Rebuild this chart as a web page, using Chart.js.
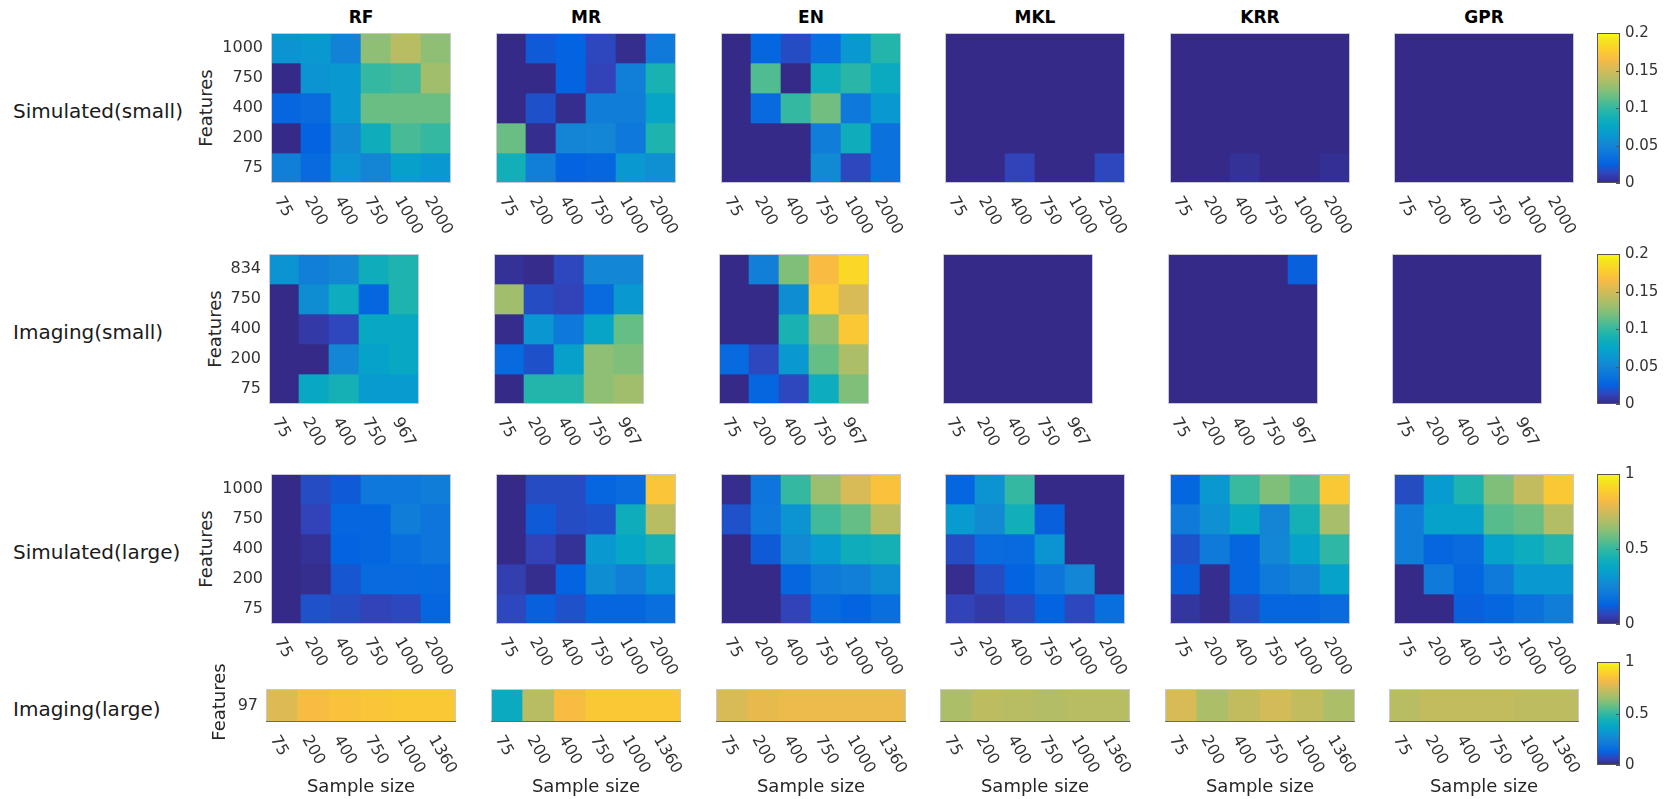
<!DOCTYPE html>
<html>
<head>
<meta charset="utf-8">
<title>Sensitivity heatmaps</title>
<script src="https://cdn.jsdelivr.net/npm/chart.js@4.4.1/dist/chart.umd.min.js"></script>
<style>
body { margin: 0; background: #fff; }
#fig { position: relative; width: 1669px; height: 799px; overflow: hidden; font-family: "DejaVu Sans", sans-serif; color: #262626; }
#fig canvas { position: absolute; }
.txt { position: absolute; white-space: nowrap; }
.title { font-weight: bold; font-size: 17px; color: #000; transform: translate(-50%, -50%); }
.rowname { font-size: 20px; color: #1a1a1a; transform: translateY(-50%); }
.ylab { font-size: 18px; transform: translate(-50%, -50%) rotate(-90deg); }
.xlab { font-size: 18px; transform: translate(-50%, -50%); }
</style>
</head>
<body>
<div id="fig"></div>
<script>
// Labels
const methods = ['RF', 'MR', 'EN', 'MKL', 'KRR', 'GPR'];
const rowNames = ['Simulated(small)', 'Imaging(small)', 'Simulated(large)', 'Imaging(large)'];

const simSamples = ['75', '200', '400', '750', '1000', '2000'];
const simFeatures = ['1000', '750', '400', '200', '75'];      // top row first
const imgSmallSamples = ['75', '200', '400', '750', '967'];
const imgSmallFeatures = ['834', '750', '400', '200', '75'];
const imgLargeSamples = ['75', '200', '400', '750', '1000', '1360'];
const imgLargeFeatures = ['97'];

const smallTicks = [0, 0.05, 0.1, 0.15, 0.2];
const largeTicks = [0, 0.5, 1];

// Simulated(small), colour range 0 - 0.2
const simSmallRF = [
    [0.060, 0.064, 0.048, 0.126, 0.140, 0.126],
    [0.000, 0.060, 0.064, 0.100, 0.104, 0.132],
    [0.028, 0.032, 0.064, 0.116, 0.116, 0.116],
    [0.000, 0.026, 0.054, 0.084, 0.106, 0.100],
    [0.046, 0.030, 0.060, 0.050, 0.070, 0.064]
];
const simSmallMR = [
    [0.000, 0.022, 0.026, 0.014, 0.002, 0.042],
    [0.000, 0.000, 0.026, 0.012, 0.046, 0.090],
    [0.000, 0.018, 0.002, 0.044, 0.044, 0.074],
    [0.116, 0.002, 0.050, 0.052, 0.040, 0.092],
    [0.086, 0.046, 0.026, 0.028, 0.064, 0.058]
];
const simSmallEN = [
    [0.000, 0.028, 0.016, 0.034, 0.064, 0.094],
    [0.000, 0.108, 0.000, 0.084, 0.096, 0.080],
    [0.000, 0.030, 0.100, 0.118, 0.040, 0.064],
    [0.000, 0.000, 0.000, 0.044, 0.084, 0.036],
    [0.000, 0.000, 0.000, 0.054, 0.014, 0.036]
];
const simSmallMKL = [
    [0, 0, 0, 0, 0, 0],
    [0, 0, 0, 0, 0, 0],
    [0, 0, 0, 0, 0, 0],
    [0, 0, 0, 0, 0, 0],
    [0, 0, 0.012, 0, 0, 0.014]
];
const simSmallKRR = [
    [0, 0, 0, 0, 0, 0],
    [0, 0, 0, 0, 0, 0],
    [0, 0, 0, 0, 0, 0],
    [0, 0, 0, 0, 0, 0],
    [0, 0, 0.004, 0, 0, 0.003]
];
const simSmallGPR = [
    [0, 0, 0, 0, 0, 0],
    [0, 0, 0, 0, 0, 0],
    [0, 0, 0, 0, 0, 0],
    [0, 0, 0, 0, 0, 0],
    [0, 0, 0, 0, 0, 0]
];

// Imaging(small), colour range 0 - 0.2
const imgSmallRF = [
    [0.060, 0.046, 0.052, 0.084, 0.092],
    [0.000, 0.056, 0.082, 0.028, 0.092],
    [0.000, 0.008, 0.014, 0.078, 0.078],
    [0.000, 0.000, 0.052, 0.072, 0.078],
    [0.000, 0.078, 0.088, 0.066, 0.066]
];
const imgSmallMR = [
    [0.004, 0.001, 0.014, 0.052, 0.052],
    [0.132, 0.016, 0.012, 0.030, 0.064],
    [0.001, 0.062, 0.040, 0.074, 0.114],
    [0.030, 0.018, 0.070, 0.126, 0.122],
    [0.000, 0.094, 0.094, 0.126, 0.132]
];
const imgSmallEN = [
    [0.000, 0.046, 0.122, 0.166, 0.184],
    [0.000, 0.000, 0.056, 0.176, 0.152],
    [0.000, 0.000, 0.090, 0.126, 0.174],
    [0.030, 0.014, 0.064, 0.114, 0.136],
    [0.000, 0.028, 0.014, 0.082, 0.122]
];
const imgSmallMKL = [
    [0, 0, 0, 0, 0],
    [0, 0, 0, 0, 0],
    [0, 0, 0, 0, 0],
    [0, 0, 0, 0, 0],
    [0, 0, 0, 0, 0]
];
const imgSmallKRR = [
    [0, 0, 0, 0, 0.024],
    [0, 0, 0, 0, 0],
    [0, 0, 0, 0, 0],
    [0, 0, 0, 0, 0],
    [0, 0, 0, 0, 0]
];
const imgSmallGPR = [
    [0, 0, 0, 0, 0],
    [0, 0, 0, 0, 0],
    [0, 0, 0, 0, 0],
    [0, 0, 0, 0, 0],
    [0, 0, 0, 0, 0]
];

// Simulated(large), colour range 0 - 1
const simLargeRF = [
    [0.00, 0.08, 0.11, 0.20, 0.20, 0.22],
    [0.00, 0.06, 0.14, 0.14, 0.22, 0.19],
    [0.00, 0.02, 0.13, 0.14, 0.17, 0.19],
    [0.00, 0.01, 0.10, 0.15, 0.15, 0.15],
    [0.00, 0.09, 0.08, 0.06, 0.07, 0.14]
];
const simLargeMR = [
    [0.00, 0.08, 0.08, 0.14, 0.16, 0.86],
    [0.00, 0.11, 0.08, 0.09, 0.42, 0.70],
    [0.00, 0.06, 0.02, 0.32, 0.38, 0.44],
    [0.05, 0.01, 0.13, 0.28, 0.23, 0.31],
    [0.07, 0.12, 0.09, 0.14, 0.14, 0.17]
];
const simLargeEN = [
    [0.01, 0.19, 0.50, 0.65, 0.76, 0.85],
    [0.09, 0.20, 0.30, 0.52, 0.57, 0.70],
    [0.00, 0.11, 0.27, 0.33, 0.42, 0.44],
    [0.00, 0.00, 0.14, 0.21, 0.23, 0.28],
    [0.00, 0.00, 0.06, 0.15, 0.13, 0.17]
];
const simLargeMKL = [
    [0.14, 0.30, 0.50, 0.00, 0.00, 0.00],
    [0.33, 0.27, 0.43, 0.12, 0.00, 0.00],
    [0.08, 0.16, 0.15, 0.30, 0.00, 0.00],
    [0.01, 0.08, 0.13, 0.19, 0.26, 0.00],
    [0.06, 0.04, 0.07, 0.13, 0.07, 0.17]
];
const simLargeKRR = [
    [0.14, 0.32, 0.51, 0.61, 0.54, 0.87],
    [0.21, 0.29, 0.39, 0.25, 0.44, 0.67],
    [0.09, 0.21, 0.14, 0.26, 0.36, 0.49],
    [0.12, 0.01, 0.14, 0.21, 0.24, 0.36],
    [0.03, 0.01, 0.08, 0.14, 0.14, 0.16]
];
const simLargeGPR = [
    [0.08, 0.33, 0.46, 0.61, 0.72, 0.87],
    [0.22, 0.36, 0.36, 0.55, 0.58, 0.69],
    [0.22, 0.14, 0.16, 0.36, 0.41, 0.47],
    [0.00, 0.21, 0.14, 0.21, 0.32, 0.32],
    [0.00, 0.00, 0.12, 0.14, 0.18, 0.22]
];

// Imaging(large), colour range 0 - 1
const imgLargeRF = [[0.77, 0.83, 0.85, 0.86, 0.87, 0.87]];
const imgLargeMR = [[0.40, 0.70, 0.83, 0.87, 0.87, 0.87]];
const imgLargeEN = [[0.76, 0.79, 0.80, 0.80, 0.80, 0.80]];
const imgLargeMKL = [[0.68, 0.71, 0.70, 0.69, 0.70, 0.70]];
const imgLargeKRR = [[0.76, 0.68, 0.72, 0.75, 0.72, 0.68]];
const imgLargeGPR = [[0.70, 0.72, 0.72, 0.72, 0.71, 0.71]];

// parula colormap stops
const parula = [
    [0.000, 53, 42, 135], [0.063, 50, 67, 186], [0.127, 3, 99, 225],
    [0.190, 13, 117, 220], [0.254, 20, 133, 212], [0.317, 9, 152, 209],
    [0.381, 6, 167, 198], [0.444, 21, 177, 180], [0.508, 56, 185, 158],
    [0.571, 101, 190, 134], [0.635, 146, 191, 115], [0.698, 183, 189, 100],
    [0.762, 217, 186, 86], [0.825, 248, 187, 68], [0.889, 252, 206, 46],
    [0.952, 245, 228, 29], [1.000, 249, 251, 14]
];

function parulaColor(t) {
    t = Math.max(0, Math.min(1, t));
    for (let i = 1; i < parula.length; i++) {
        if (t <= parula[i][0]) {
            const a = parula[i - 1], b = parula[i];
            const f = (t - a[0]) / (b[0] - a[0]);
            const c = [1, 2, 3].map(k => Math.round(a[k] + (b[k] - a[k]) * f));
            return `rgb(${c[0]},${c[1]},${c[2]})`;
        }
    }
    return 'rgb(249,251,14)';
}

// Layout
const colLeft = [271, 496, 721, 945, 1170, 1394];
const PAD_L = 70, PAD_T = 4, PAD_R = 40, PAD_B = 62;
const CB_LEFT = 1597, CB_W = 23;

const panelRows = [
    { top: 33, h: 150, w: 180, shift: 0, xs: simSamples, ys: simFeatures, max: 0.2, ticks: smallTicks,
      cbTop: 33, cbH: 150, featX: 205, grids: [simSmallRF, simSmallMR, simSmallEN, simSmallMKL, simSmallKRR, simSmallGPR] },
    { top: 254, h: 150, w: 150, shift: -2, xs: imgSmallSamples, ys: imgSmallFeatures, max: 0.2, ticks: smallTicks,
      cbTop: 254, cbH: 150, featX: 214, grids: [imgSmallRF, imgSmallMR, imgSmallEN, imgSmallMKL, imgSmallKRR, imgSmallGPR] },
    { top: 474, h: 150, w: 180, shift: 0, xs: simSamples, ys: simFeatures, max: 1, ticks: largeTicks,
      cbTop: 474, cbH: 150, featX: 205, grids: [simLargeRF, simLargeMR, simLargeEN, simLargeMKL, simLargeKRR, simLargeGPR] },
    { top: 689, h: 33, w: 190, shift: -5, xs: imgLargeSamples, ys: imgLargeFeatures, max: 1, ticks: largeTicks,
      cbTop: 662, cbH: 103, featX: 218, grids: [imgLargeRF, imgLargeMR, imgLargeEN, imgLargeMKL, imgLargeKRR, imgLargeGPR] }
];

const fig = document.getElementById('fig');

function addCanvas(left, top, w, h) {
    const c = document.createElement('canvas');
    c.width = w;
    c.height = h;
    c.style.left = left + 'px';
    c.style.top = top + 'px';
    fig.appendChild(c);
    return c;
}

function addText(cls, text, x, y) {
    const d = document.createElement('div');
    d.className = 'txt ' + cls;
    d.textContent = text;
    d.style.left = x + 'px';
    d.style.top = y + 'px';
    fig.appendChild(d);
}

// Box, rotated sample-size ticks and feature ticks around a heatmap
function axesPlugin(yLabels, darkBase) {
    return {
        id: 'heatAxes',
        afterDatasetsDraw(chart) {
            const { ctx, chartArea: a, scales } = chart;
            ctx.save();
            ctx.strokeStyle = '#c9c9d3';
            ctx.lineWidth = 1;
            ctx.strokeRect(a.left + 0.5, a.top + 0.5, a.right - a.left - 1, a.bottom - a.top - 1);
            if (darkBase) {
                ctx.strokeStyle = '#6b6b6b';
                ctx.beginPath();
                ctx.moveTo(a.left, a.bottom - 0.5);
                ctx.lineTo(a.right, a.bottom - 0.5);
                ctx.stroke();
            }
            ctx.fillStyle = '#333';
            ctx.font = '16px "DejaVu Sans"';
            ctx.textAlign = 'left';
            ctx.textBaseline = 'middle';
            chart.data.labels.forEach((lab, i) => {
                const px = scales.x.getPixelForValue(i);
                ctx.save();
                ctx.translate(px - 8, a.bottom + 15);
                ctx.rotate(Math.PI / 3);
                ctx.fillText(lab, 0, 0);
                ctx.restore();
            });
            if (yLabels) {
                const n = yLabels.length;
                ctx.textAlign = 'right';
                yLabels.forEach((lab, i) => {
                    ctx.fillText(lab, a.left - 8, scales.y.getPixelForValue(n - 1 - i));
                });
            }
            ctx.restore();
        }
    };
}

function heatmap(canvas, xLabels, yLabels, grid, max, showY, darkBase) {
    const n = yLabels.length;
    const datasets = grid.map((row, i) => {
        const level = n - 1 - i;   // first row of the grid is drawn on top
        return {
            data: row.map(() => [level - 0.5, level + 0.5]),
            backgroundColor: row.map(v => parulaColor(v / max)),
            grouped: false,
            categoryPercentage: 1,
            barPercentage: 1,
            borderWidth: 0
        };
    });
    new Chart(canvas, {
        type: 'bar',
        data: { labels: xLabels, datasets: datasets },
        options: {
            responsive: false,
            animation: false,
            devicePixelRatio: 1,
            events: [],
            layout: { padding: { left: PAD_L, top: PAD_T, right: PAD_R, bottom: PAD_B } },
            scales: {
                x: { display: false },
                y: { display: false, min: -0.5, max: n - 0.5 }
            },
            plugins: { legend: { display: false }, tooltip: { enabled: false } }
        },
        plugins: [axesPlugin(showY ? yLabels : null, darkBase)]
    });
}

// Colorbar: one floating bar filled with the colormap, ticks on the right
function colorbar(canvas, max, ticks) {
    new Chart(canvas, {
        type: 'bar',
        data: {
            labels: [''],
            datasets: [{
                data: [[0, max]],
                categoryPercentage: 1,
                barPercentage: 1,
                borderWidth: 0,
                backgroundColor: c => {
                    const a = c.chart.chartArea;
                    if (!a) return '#352a87';
                    const g = c.chart.ctx.createLinearGradient(0, a.bottom, 0, a.top);
                    parula.forEach(s => g.addColorStop(s[0], `rgb(${s[1]},${s[2]},${s[3]})`));
                    return g;
                }
            }]
        },
        options: {
            responsive: false,
            animation: false,
            devicePixelRatio: 1,
            events: [],
            layout: { padding: { left: 2, top: 10, right: 50, bottom: 10 } },
            scales: {
                x: { display: false },
                y: { display: false, min: 0, max: max }
            },
            plugins: { legend: { display: false }, tooltip: { enabled: false } }
        },
        plugins: [{
            id: 'cbTicks',
            afterDatasetsDraw(chart) {
                const { ctx, chartArea: a, scales } = chart;
                ctx.save();
                ctx.strokeStyle = '#555';
                ctx.lineWidth = 1;
                ctx.strokeRect(a.left + 0.5, a.top + 0.5, a.right - a.left - 1, a.bottom - a.top - 1);
                ctx.fillStyle = '#333';
                ctx.font = '15px "DejaVu Sans"';
                ctx.textAlign = 'left';
                ctx.textBaseline = 'middle';
                ticks.forEach(v => {
                    const py = Math.round(scales.y.getPixelForValue(v)) + 0.5;
                    ctx.beginPath();
                    ctx.moveTo(a.right - 4, py);
                    ctx.lineTo(a.right, py);
                    ctx.stroke();
                    ctx.fillText(String(v), a.right + 5, py);
                });
                ctx.restore();
            }
        }]
    });
}

// Column titles
methods.forEach((m, j) => addText('title', m, colLeft[j] + 90, 17));

panelRows.forEach((r, ri) => {
    const mid = r.top + r.h / 2;
    addText('rowname', rowNames[ri], 13, mid + 3);
    addText('ylab', 'Features', r.featX, mid - (ri === 3 ? 4 : 0));

    r.grids.forEach((grid, j) => {
        const left = colLeft[j] + r.shift;
        const cv = addCanvas(left - PAD_L, r.top - PAD_T, r.w + PAD_L + PAD_R, r.h + PAD_T + PAD_B);
        heatmap(cv, r.xs, r.ys, grid, r.max, j === 0, ri === 3);
        if (ri === 3) addText('xlab', 'Sample size', left + r.w / 2, 785);
    });

    const cb = addCanvas(CB_LEFT - 2, r.cbTop - 10, CB_W + 52, r.cbH + 20);
    colorbar(cb, r.max, r.ticks);
});
</script>
</body>
</html>
